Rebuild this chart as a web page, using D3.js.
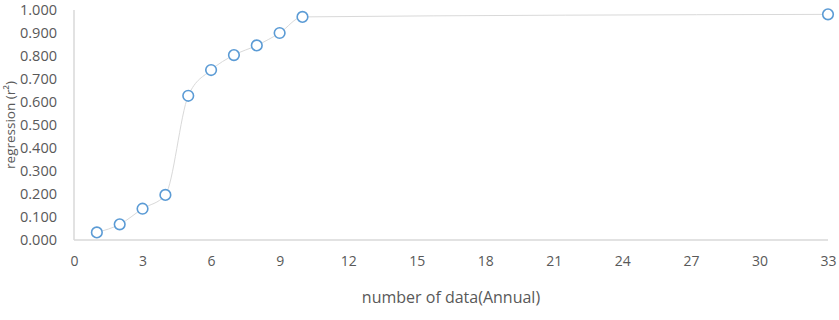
<!DOCTYPE html>
<html><head><meta charset="utf-8">
<script src="https://cdn.jsdelivr.net/npm/d3@7"></script>
<style>body{margin:0;background:#fff}svg{display:block}text{font-family:"Open Sans",sans-serif;fill:#595959}</style>
</head><body>
<svg id="c" width="839" height="320"></svg>
<script>
const xValues = [1,2,3,4,5,6,7,8,9,10,33];
const rValues = [0.033,0.068,0.136,0.196,0.627,0.739,0.804,0.846,0.900,0.970,0.981];
const xTicks = [0,3,6,9,12,15,18,21,24,27,30,33];
const yTicks = [0,0.1,0.2,0.3,0.4,0.5,0.6,0.7,0.8,0.9,1.0];
const xTitle = "number of data(Annual)";
const yTitle = "regression (r²)";

const svg = d3.select("#c");
const x = d3.scaleLinear().domain([0,33]).range([74,828]);
const y = d3.scaleLinear().domain([0,1]).range([240,10]);

svg.append("line").attr("x1",x(0)).attr("x2",x(33)).attr("y1",y(0)).attr("y2",y(0))
  .attr("stroke","#d9d9d9").attr("stroke-width",1.5);
svg.append("line").attr("x1",x(0)).attr("x2",x(0)).attr("y1",y(0)).attr("y2",y(1))
  .attr("stroke","#d9d9d9").attr("stroke-width",1.5);

const xAxis = d3.axisBottom(x).tickValues(xTicks).tickSize(0).tickPadding(16).tickFormat(d3.format("d"));
const gx = svg.append("g").attr("transform",`translate(0,${y(0)})`).call(xAxis);
gx.select(".domain").remove();
gx.selectAll("text").style("font-size","14px").style("font-family","'Open Sans',sans-serif").attr("fill","#595959");

const yAxis = d3.axisLeft(y).tickValues(yTicks).tickSize(0).tickPadding(17).tickFormat(d3.format(".3f"));
const gy = svg.append("g").attr("transform",`translate(${x(0)},0)`).call(yAxis);
gy.select(".domain").remove();
gy.selectAll("text").style("font-size","14.5px").style("font-family","'Open Sans',sans-serif").attr("fill","#595959");

const data = xValues.map((v,i)=>({x:v,y:rValues[i]}));
const line = d3.line().x(d=>x(d.x)).y(d=>y(d.y)).curve(d3.curveMonotoneX);
svg.append("path").datum(data).attr("d",line).attr("fill","none").attr("stroke","#d9d9d9").attr("stroke-width",1);

svg.selectAll("circle.pt").data(data).enter().append("circle").attr("class","pt")
  .attr("cx",d=>x(d.x)).attr("cy",d=>y(d.y)).attr("r",5.3)
  .attr("fill","#fff").attr("stroke","#5b9bd5").attr("stroke-width",1.6);

svg.append("text").attr("x",451).attr("y",303).attr("text-anchor","middle")
  .style("font-size","16px").text(xTitle);
svg.append("text").attr("transform",`translate(15,125) rotate(-90)`).attr("text-anchor","middle")
  .style("font-size","13.5px").text(yTitle);
</script>
</body></html>
